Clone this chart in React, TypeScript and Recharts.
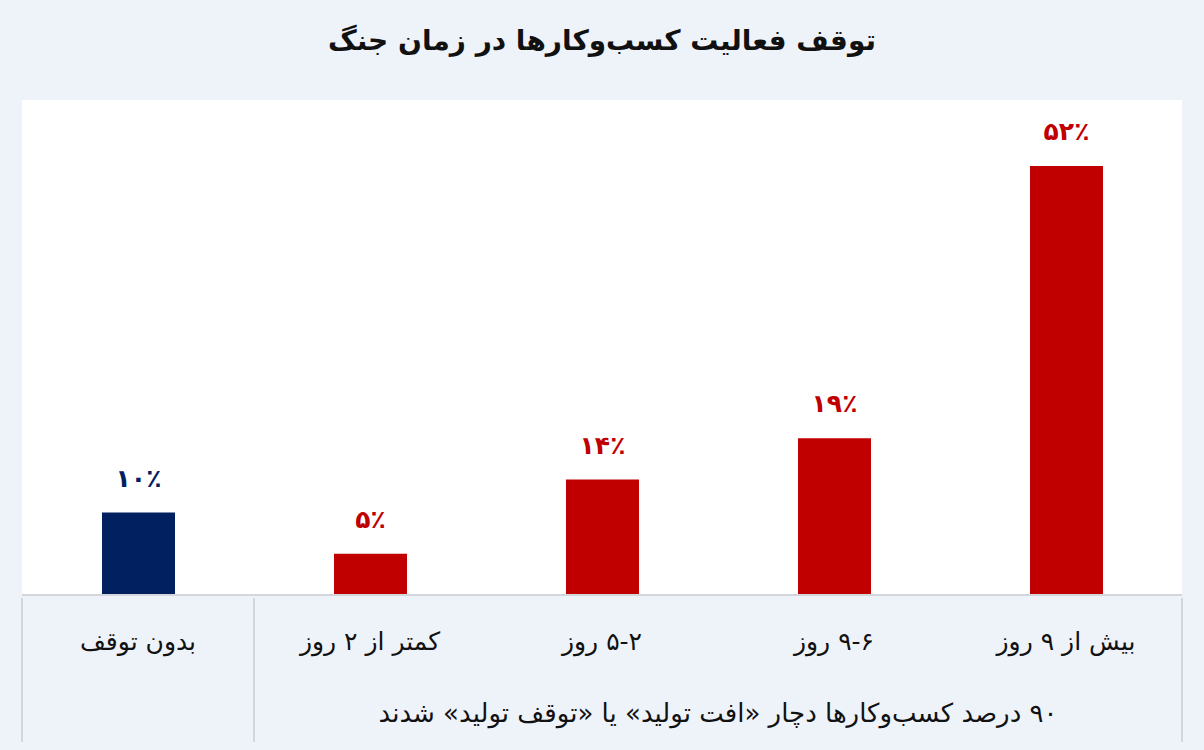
import React from "react";
import { BarChart, Bar, XAxis, YAxis, CartesianGrid, LabelList, Cell } from "recharts";

const title = "توقف فعالیت کسب‌وکارها در زمان جنگ";
const categories = ["بدون توقف", "کمتر از ۲ روز", "۵-۲ روز", "۹-۶ روز", "بیش از ۹ روز"];
const values = [10, 5, 14, 19, 52];
// categories from this index to the end share the group caption
const groupStart = 1;
const groupLabel = "۹۰ درصد کسب‌وکارها دچار «افت تولید» یا «توقف تولید» شدند";

const NAVY = "#002060";
const RED = "#C00000";
const barColors = [NAVY, RED, RED, RED, RED];

const W = 1204;
const H = 750;
const M = { top: 100, right: 22, bottom: 10, left: 22 };
const AXIS_H = 145;
const FONT = "'DejaVu Sans', sans-serif";
const band = (W - M.left - M.right) / categories.length;

const toFa = (n: number) => String(n).replace(/\d/g, (d) => "۰۱۲۳۴۵۶۷۸۹"[+d]);

const data = categories.map((name, i) => ({ name, value: values[i] }));

function Tick(props: any) {
  const { x, y, index, payload } = props;
  const last = categories.length - 1;
  const line = (lx: number, k: string) => (
    <line key={k} x1={lx} x2={lx} y1={y + 1} y2={y + 145} stroke="#d3d6db" strokeWidth={2} />
  );
  return (
    <g>
      {index === 0 && line(x - band / 2, "l")}
      {(index === 0 || index === last) && line(x + band / 2, "r")}
      <text
        x={x}
        y={y + 53}
        textAnchor="middle"
        direction="rtl"
        fontFamily={FONT}
        fontSize={25}
        fill="#111"
      >
        {payload.value}
      </text>
      {index === groupStart && (
        <text
          x={x + ((last - groupStart) * band) / 2}
          y={y + 125}
          textAnchor="middle"
          direction="rtl"
          fontFamily={FONT}
          fontSize={26}
          fill="#111"
        >
          {groupLabel}
        </text>
      )}
    </g>
  );
}

function BarLabel(props: any) {
  const { x, y, width, value, index } = props;
  return (
    <text
      x={x + width / 2}
      y={y - 26}
      textAnchor="middle"
      fontFamily={FONT}
      fontWeight="bold"
      fontSize={25}
      fill={barColors[index]}
    >
      {toFa(value) + "٪"}
    </text>
  );
}

export default function App() {
  return (
    <div
      style={{
        position: "absolute",
        left: 0,
        top: 0,
        width: W,
        height: H,
        background: "#eef3fa",
        fontFamily: FONT,
      }}
    >
      <div
        style={{
          position: "absolute",
          top: 24,
          width: W,
          textAlign: "center",
          direction: "rtl",
          fontSize: 28,
          fontWeight: "bold",
          color: "#111",
        }}
      >
        {title}
      </div>
      <BarChart width={W} height={H} data={data} margin={M}>
        <CartesianGrid horizontal={false} vertical={false} fill="#ffffff" />
        <YAxis hide domain={[0, 60]} />
        <XAxis
          dataKey="name"
          height={AXIS_H}
          interval={0}
          tickLine={false}
          tickSize={0}
          axisLine={{ stroke: "#d3d6db", strokeWidth: 2 }}
          tick={<Tick />}
        />
        <Bar dataKey="value" barSize={73} isAnimationActive={false}>
          {data.map((d, i) => (
            <Cell key={d.name} fill={barColors[i]} />
          ))}
          <LabelList dataKey="value" content={<BarLabel />} />
        </Bar>
      </BarChart>
    </div>
  );
}
